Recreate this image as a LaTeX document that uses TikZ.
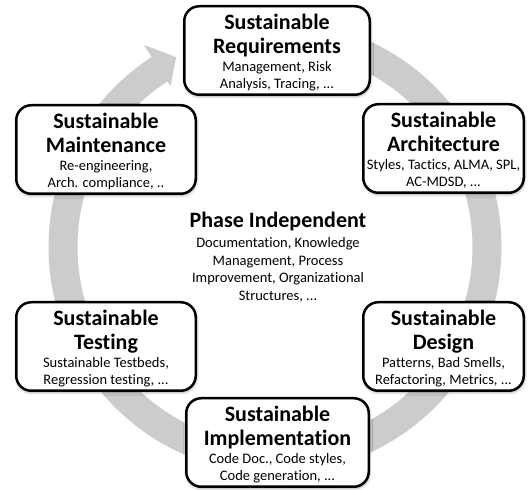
\documentclass[tikz,border=0pt]{standalone}
\usepackage{fontspec}
\setmainfont{Carlito}[Ligatures=NoCommon]
\usetikzlibrary{shadows.blur}
\definecolor{ringgray}{RGB}{204,204,204}
\tikzset{
  stage/.style={draw=black, line width=2.5pt, fill=white, rounded corners=15pt,
    minimum height=88.5pt, inner sep=0pt,
    blur shadow={shadow xshift=0.5pt, shadow yshift=-1.5pt, shadow blur radius=3pt, shadow opacity=40}},
  ttl/.style={anchor=base, inner sep=0pt, font=\fontsize{22}{24}\selectfont\bfseries},
  sub/.style={anchor=base, inner sep=0pt, font=\fontsize{14.5}{17}\selectfont},
  ring/.style={draw=ringgray, line width=29pt},
  ringhead/.style={fill=ringgray},
}
% #1 name, #2 centre x, #3 top edge (from the top), #4 outer width,
% #5/#6 title lines, #7/#8 detail lines
\newcommand\stagebox[8]{%
  \node[stage, minimum width={#4-2.5pt}] (#1) at (#2,{490-#3-45.5}) {};
  \node[ttl] (#1-t1) at (#2,{490-#3-25}) {#5};
  \node[ttl] (#1-t2) at (#2,{490-#3-49}) {#6};
  \node[sub] (#1-s1) at (#2,{490-#3-67}) {#7};
  \node[sub] (#1-s2) at (#2,{490-#3-84}) {#8};
}
\begin{document}
\begin{tikzpicture}[x=1pt,y=1pt]
\useasboundingbox (0,0) rectangle (528,490);

% circular process arrow
\coordinate (c) at (275,243);
\draw[ring] ([shift={(90:212pt)}]c) arc[start angle=90, end angle=-237.5, radius=212pt];
\fill[ringhead] ([shift={(123:241pt)}]c) -- ([shift={(117.5:214pt)}]c)
  -- ([shift={(123:192pt)}]c) -- cycle;

% life-cycle stages
\stagebox{req}{277}{5}{188pt}{Sustainable}{Requirements}{Management, Risk}{Analysis, Tracing, ...}
\stagebox{arch}{443.5}{103}{163pt}{Sustainable}{Architecture}{Styles, Tactics, ALMA, SPL,}{AC-MDSD, ...}
\stagebox{design}{443.5}{301}{163pt}{Sustainable}{Design}{Patterns, Bad Smells,}{Refactoring, Metrics, ...}
\stagebox{impl}{277.5}{397}{185pt}{Sustainable}{Implementation}{Code Doc., Code styles,}{Code generation, ...}
\stagebox{test}{106}{301}{182pt}{Sustainable}{Testing}{Sustainable Testbeds,}{Regression testing, ...}
\stagebox{maint}{106}{104}{182pt}{Sustainable}{Maintenance}{Re-engineering,}{Arch. compliance, ..}

% cross-cutting concerns in the middle
\node[ttl] (pi) at (278,{490-228}) {Phase Independent};
\node[sub] (pi-1) at (278,{490-248}) {Documentation, Knowledge};
\node[sub] (pi-2) at (278,{490-265.5}) {Management, Process};
\node[sub] (pi-3) at (278,{490-283}) {Improvement, Organizational};
\node[sub] (pi-4) at (278,{490-300.5}) {Structures, ...};
\end{tikzpicture}
\end{document}
